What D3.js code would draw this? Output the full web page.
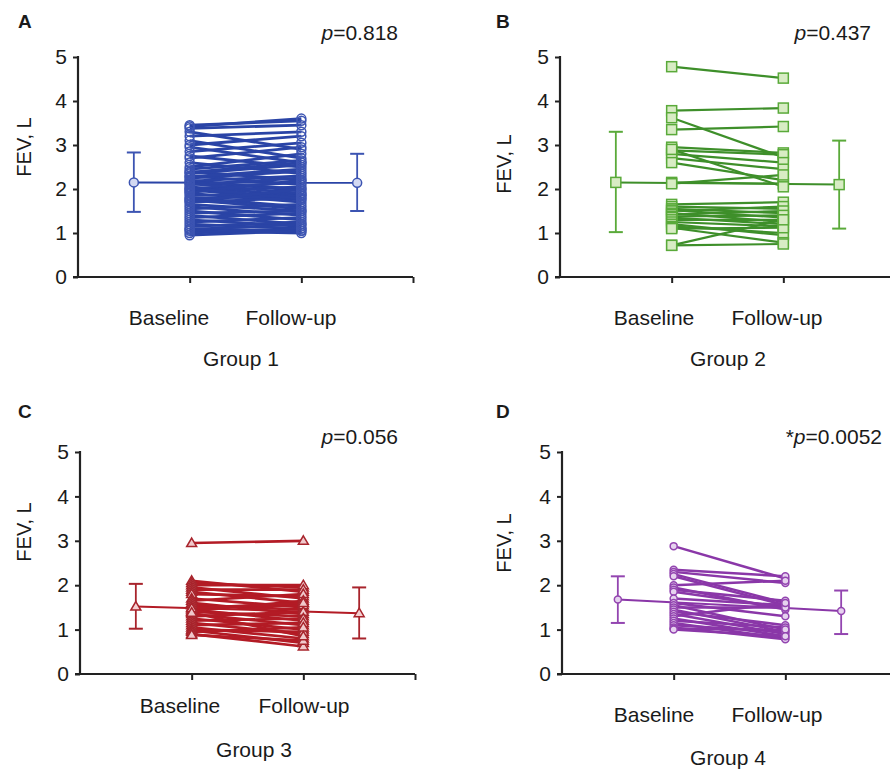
<!DOCTYPE html>
<html>
<head>
<meta charset="utf-8">
<script src="https://cdn.jsdelivr.net/npm/d3@7"></script>
<style>
  body { margin: 0; background: #fff; }
  text { font-family: "Liberation Sans", Arial, sans-serif; fill: #1a1a1a; }
</style>
</head>
<body>
<div id="chart"></div>
<script>
// ---- data ----
var timepoints = ["Baseline", "Follow-up"];
var groups = ["Group 1", "Group 2", "Group 3", "Group 4"];
var panelLetters = ["A", "B", "C", "D"];
var pLabels = ["0.818", "0.437", "0.056", "0.0052"];
var pStars = ["", "", "", "*"];
var yTicks = [0, 1, 2, 3, 4, 5];

var g1Base = [3.45,3.42,3.38,3.3,3.2,3.1,3.0,2.95,2.85,2.75,2.7,2.6,2.5,2.45,2.4,2.35,2.3,2.25,2.2,2.18,2.15,2.1,2.05,2.0,1.98,1.95,1.9,1.85,1.8,1.78,1.75,1.7,1.65,1.6,1.55,1.5,1.45,1.4,1.35,1.3,1.25,1.2,1.15,1.1,1.08,1.05,1.0,0.95,2.28,2.12,1.92,2.02,1.72,2.38];
var g1Follow = [3.55,3.6,3.45,2.9,3.3,2.7,3.2,2.6,3.05,2.5,2.95,2.35,2.8,2.65,2.2,2.55,2.1,2.4,1.95,2.3,2.0,2.25,1.85,2.15,1.75,2.05,1.7,1.9,1.6,1.85,1.55,1.8,1.5,1.4,1.65,1.3,1.5,1.2,1.45,1.15,1.35,1.1,1.25,1.05,1.2,1.0,1.1,1.05,2.45,1.9,2.2,1.78,2.0,2.6];

var g2Base = [4.78,3.78,3.62,3.35,2.95,2.88,2.8,2.7,2.6,2.15,2.12,1.65,1.6,1.55,1.52,1.5,1.45,1.42,1.38,1.35,1.3,1.25,1.2,1.15,1.12,1.1,0.72,0.72,2.9];
var g2Follow = [4.52,3.84,2.72,3.42,2.82,2.78,2.6,2.45,2.2,2.12,2.32,1.7,1.55,1.45,1.35,1.6,1.25,1.5,1.4,1.2,1.3,1.15,0.95,1.0,0.78,1.12,1.3,0.75,2.05];

var g3Base = [2.95,2.1,2.05,2.0,1.95,1.9,1.85,1.8,1.7,1.65,1.6,1.55,1.5,1.45,1.42,1.4,1.35,1.3,1.25,1.2,1.15,1.1,1.05,1.0,0.98,0.95,0.9,0.88,1.48,1.38];
var g3Follow = [3.0,1.85,1.95,2.0,1.7,1.9,1.6,1.75,1.5,1.8,1.35,1.45,1.55,1.2,1.65,1.3,1.1,1.4,1.0,1.25,0.9,1.15,0.8,0.95,0.7,1.05,0.62,0.75,1.6,0.85];

var g4Base = [2.88,2.35,2.3,2.25,2.2,2.0,1.95,1.9,1.85,1.7,1.6,1.55,1.5,1.45,1.4,1.35,1.3,1.25,1.2,1.15,1.1,1.05,1.02,1.0];
var g4Follow = [2.15,2.2,2.05,1.6,1.55,2.1,1.45,1.65,1.5,1.55,1.3,1.0,1.5,0.95,1.1,0.9,1.6,0.85,1.05,0.8,0.95,0.78,1.0,0.85];

// mean and error bar ends [baseline, follow-up]
var meanVals = [[2.15, 2.14], [2.15, 2.1], [1.52, 1.37], [1.68, 1.42]];
var barLow = [[1.48, 1.5], [1.02, 1.1], [1.02, 0.8], [1.15, 0.9]];
var barHigh = [[2.83, 2.8], [3.3, 3.1], [2.03, 1.95], [2.2, 1.88]];

var pairs = [[g1Base, g1Follow], [g2Base, g2Follow], [g3Base, g3Follow], [g4Base, g4Follow]];

// ---- layout / style ----
var W = 890, H = 770;
var panels = [
  { ax: 78,  y0: 277, y5: 57,  letter: [18, 28],  p: [398, 40],  fev: [31, 147],  lab: [169, 291, 325], grp: [241, 366] },
  { ax: 560, y0: 277, y5: 57,  letter: [496, 28], p: [871, 40],  fev: [511, 164], lab: [654, 777, 325], grp: [728, 366] },
  { ax: 80,  y0: 674, y5: 452, letter: [18, 418], p: [398, 444], fev: [31, 532],  lab: [180, 304, 713], grp: [254, 757] },
  { ax: 562, y0: 674, y5: 452, letter: [496, 418], p: [882, 444], fev: [511, 543], lab: [654, 777, 722], grp: [728, 765] }
];
var styles = [
  { line: "#2a44a6", stroke: "#3c54b2", fill: "none", mfill: "#d3d9f2", shape: "circle", size: 4.5, lw: 2.8 },
  { line: "#3e8f2a", stroke: "#5aaa3a", fill: "#d8ecc4", mfill: "#d8ecc4", shape: "square", size: 5, lw: 2.2 },
  { line: "#b31b25", stroke: "#a8242c", fill: "#f0c8cb", mfill: "#f4d0d2", shape: "triangle", size: 5, lw: 2.7 },
  { line: "#8a37a8", stroke: "#9345b0", fill: "#e6d2ef", mfill: "#e6d2ef", shape: "circle", size: 3.5, lw: 2.5 }
];

var svg = d3.select("#chart").append("svg")
  .attr("width", W).attr("height", H);

function drawMarker(g, shape, cx, cy, s, stroke, fill) {
  if (shape == "circle") {
    g.append("circle").attr("cx", cx).attr("cy", cy).attr("r", s)
      .attr("fill", fill).attr("stroke", stroke).attr("stroke-width", 1.5);
  } else if (shape == "square") {
    g.append("rect").attr("x", cx - s).attr("y", cy - s)
      .attr("width", 2 * s).attr("height", 2 * s)
      .attr("fill", fill).attr("stroke", stroke).attr("stroke-width", 1.5);
  } else {
    g.append("path")
      .attr("d", "M" + cx + "," + (cy - s) + "L" + (cx + s) + "," + (cy + s * 0.7) + "L" + (cx - s) + "," + (cy + s * 0.7) + "Z")
      .attr("fill", fill).attr("stroke", stroke).attr("stroke-width", 1.5);
  }
}

function drawPanel(i) {
  var pn = panels[i], st = styles[i];
  var g = svg.append("g");

  var x = d3.scaleLinear().domain([0, 3]).range([pn.ax, pn.ax + 335]);
  var y = d3.scaleLinear().domain([0, 5]).range([pn.y0, pn.y5]);

  // axes
  var yAxis = d3.axisLeft(y).tickValues(yTicks).tickSize(5).tickPadding(6).tickFormat(d3.format("d"));
  var gy = g.append("g").attr("transform", "translate(" + pn.ax + ",0)").call(yAxis);
  var xAxis = d3.axisBottom(x).tickValues([1, 2, 3]).tickSize(6).tickFormat("");
  var gx = g.append("g").attr("transform", "translate(0," + pn.y0 + ")").call(xAxis);
  gx.select(".domain").attr("d", "M" + (pn.ax - 5) + ",0H" + x(3));
  gy.select(".domain").attr("d", "M0," + (pn.y5 - 1) + "V" + pn.y0);
  g.selectAll(".domain").attr("stroke", "#222").attr("stroke-width", 2.2);
  g.selectAll(".tick line").attr("stroke", "#222").attr("stroke-width", 2);
  gy.selectAll(".tick text").style("font-size", "21px").attr("fill", "#1a1a1a")
    .style("font-family", "Liberation Sans, Arial, sans-serif");

  // mean line and error bars
  var mx = [0.5, 2.5];
  g.append("line")
    .attr("x1", x(mx[0])).attr("y1", y(meanVals[i][0]))
    .attr("x2", x(mx[1])).attr("y2", y(meanVals[i][1]))
    .attr("stroke", st.line).attr("stroke-width", 2);
  for (var k = 0; k < 2; k++) {
    var cx = x(mx[k]);
    g.append("line").attr("x1", cx).attr("x2", cx)
      .attr("y1", y(barLow[i][k])).attr("y2", y(barHigh[i][k]))
      .attr("stroke", st.stroke).attr("stroke-width", 1.8);
    [barLow[i][k], barHigh[i][k]].forEach(function(v){
      g.append("line").attr("x1", cx - 7).attr("x2", cx + 7)
        .attr("y1", y(v)).attr("y2", y(v))
        .attr("stroke", st.stroke).attr("stroke-width", 2);
    });
  }

  // paired lines
  var base = pairs[i][0], fol = pairs[i][1];
  base.forEach(function(b, j){
    g.append("line")
      .attr("x1", x(1)).attr("y1", y(b))
      .attr("x2", x(2)).attr("y2", y(fol[j]))
      .attr("stroke", st.line).attr("stroke-width", st.lw);
  });
  base.forEach(function(b, j){
    drawMarker(g, st.shape, x(1), y(b), st.size, st.stroke, st.fill);
    drawMarker(g, st.shape, x(2), y(fol[j]), st.size, st.stroke, st.fill);
  });
  for (var k = 0; k < 2; k++) {
    drawMarker(g, st.shape, x(mx[k]), y(meanVals[i][k]), st.size, st.stroke, st.mfill);
  }

  // labels
  g.append("text").attr("x", pn.letter[0]).attr("y", pn.letter[1])
    .style("font-size", "19px").style("font-weight", "bold").text(panelLetters[i]);

  var pt = g.append("text").attr("x", pn.p[0]).attr("y", pn.p[1])
    .attr("text-anchor", "end").style("font-size", "21px");
  pt.append("tspan").text(pStars[i]);
  pt.append("tspan").style("font-style", "italic").text("p");
  pt.append("tspan").text("=" + pLabels[i]);

  g.append("text")
    .attr("transform", "translate(" + pn.fev[0] + "," + pn.fev[1] + ") rotate(-90)")
    .attr("text-anchor", "middle").style("font-size", "20px").text("FEV, L");

  g.append("text").attr("x", pn.lab[0]).attr("y", pn.lab[2])
    .attr("text-anchor", "middle").style("font-size", "21px").text(timepoints[0]);
  g.append("text").attr("x", pn.lab[1]).attr("y", pn.lab[2])
    .attr("text-anchor", "middle").style("font-size", "21px").text(timepoints[1]);

  g.append("text").attr("x", pn.grp[0]).attr("y", pn.grp[1])
    .attr("text-anchor", "middle").style("font-size", "21px").text(groups[i]);
}

for (var i = 0; i < 4; i++) { drawPanel(i); }
</script>
</body>
</html>
